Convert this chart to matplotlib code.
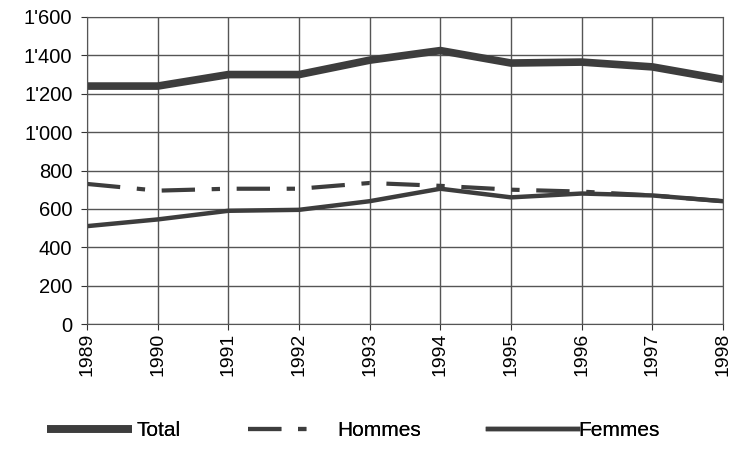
import matplotlib
matplotlib.use('Agg')
import matplotlib.pyplot as plt
from matplotlib.ticker import FuncFormatter

years = [1989, 1990, 1991, 1992, 1993, 1994, 1995, 1996, 1997, 1998]
total = [1240, 1240, 1300, 1300, 1375, 1425, 1360, 1365, 1340, 1275]
hommes = [730, 695, 705, 705, 735, 720, 700, 690, 670, 640]
femmes = [510, 545, 590, 595, 640, 705, 660, 680, 670, 640]

plt.rcParams['font.family'] = ['Liberation Sans', 'DejaVu Sans']

fig = plt.figure(figsize=(7.34, 4.5), dpi=100)
ax = fig.add_axes([87/734, 126/450, 636/734, 307/450])

c = '#3d3d3d'
l1, = ax.plot(years, total, color=c, lw=5.5, solid_capstyle='butt')
l2, = ax.plot(years, hommes, color=c, lw=3, dashes=(8, 4, 2, 4))
l3, = ax.plot(years, femmes, color=c, lw=3.2)

ax.set_xlim(1989, 1998)
ax.set_ylim(0, 1600)
ax.set_xticks(years)
ax.set_yticks(range(0, 1601, 200))
ax.yaxis.set_major_formatter(FuncFormatter(lambda v, p: f"{int(v):,}".replace(',', "'")))
ax.tick_params(axis='x', labelrotation=90, labelsize=14, length=4.5, color='#333333', pad=2)
ax.tick_params(axis='y', labelsize=14.5, length=4.5, color='#333333', pad=6)
ax.grid(True, color='#555555', lw=1)
for s in ax.spines.values():
    s.set_color('#555555')

# three separate legend entries, placed like the original
entries = [(l1, 'Total', 47, 4.1, 0.2), (l2, 'Hommes', 248, 3.3, 1.0), (l3, 'Femmes', 488, 4.3, 0.05)]
for h, lab, x0, hl, pad in entries:
    leg = fig.legend([h], [lab], loc='center left', bbox_to_anchor=(x0/734, 1 - 431/450),
                     frameon=False, fontsize=15, handlelength=hl, handletextpad=pad,
                     borderpad=0, borderaxespad=0)
    fig.add_artist(leg)

fig.savefig('out.png', dpi=100)
